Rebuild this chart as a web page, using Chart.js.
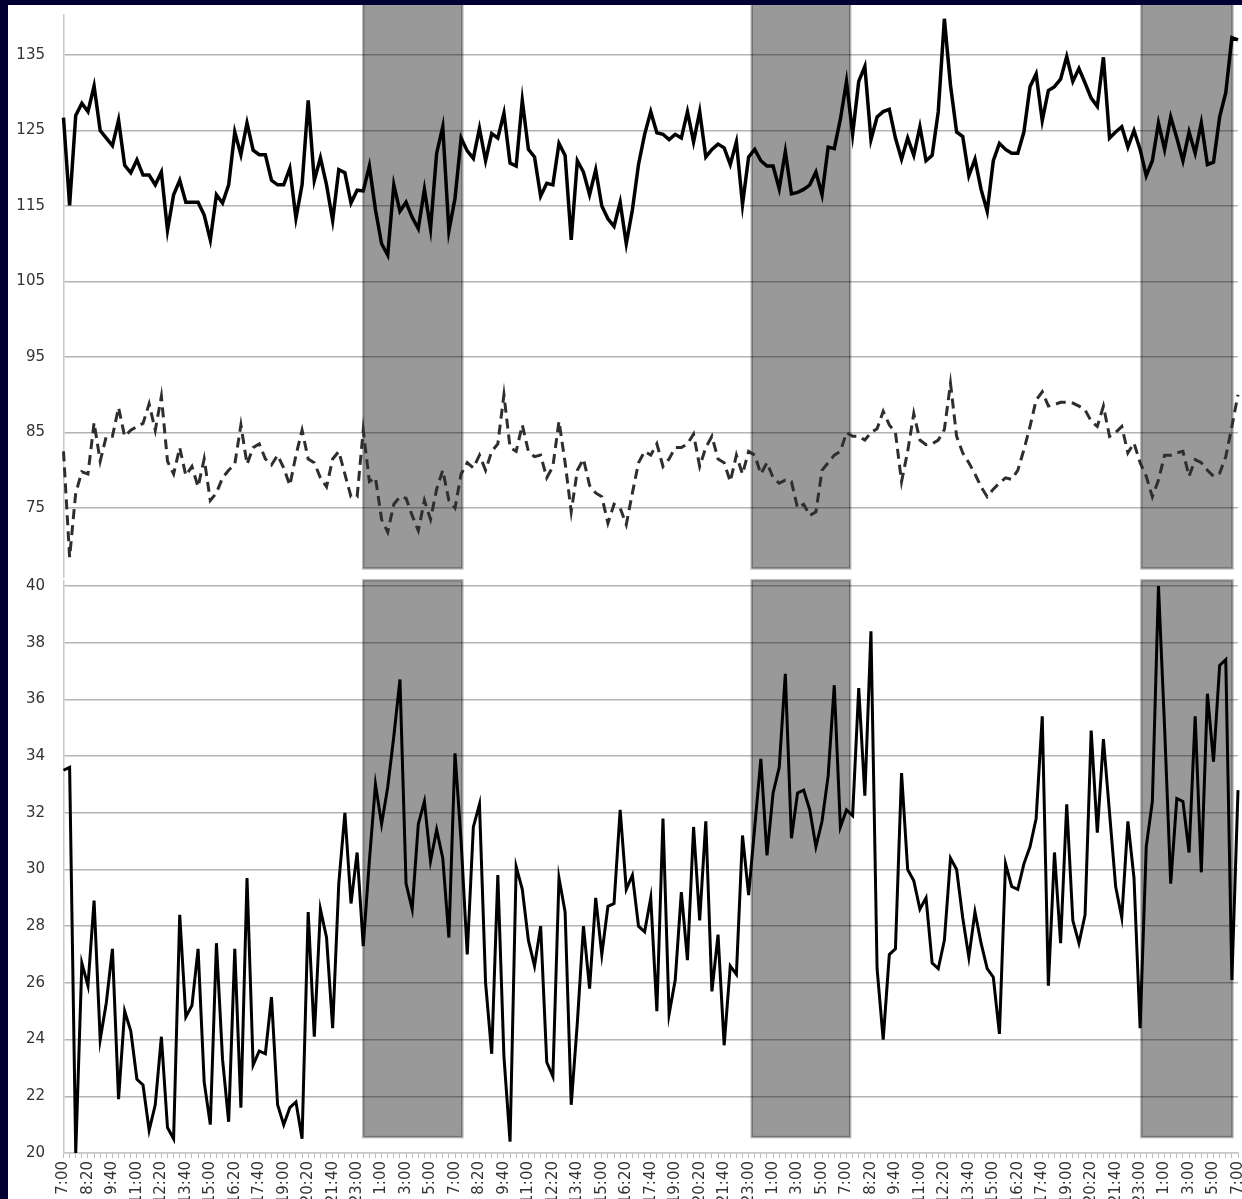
<!DOCTYPE html>
<html>
<head>
<meta charset="utf-8">
<script src="https://cdn.jsdelivr.net/npm/chart.js@4.4.1/dist/chart.umd.min.js"></script>
<style>
  html, body { margin: 0; padding: 0; background: #000033; width: 1242px; height: 1199px; overflow: hidden; }
  #wrap { position: absolute; left: 8px; top: 5px; width: 1234px; height: 1194px; background: #fff; overflow: hidden; }
  #top { position: absolute; left: 0; top: 0; }
  #bottom { position: absolute; left: 0; top: 573px; }
</style>
</head>
<body>
<div id="wrap">
  <canvas id="top" width="1234" height="573"></canvas>
  <canvas id="bottom" width="1234" height="621"></canvas>
</div>
<script>
// tick labels shown under the lower panel (every 4th reading)
const xTickLabels = [
  '7:00', '8:20', '9:40', '11:00', '12:20', '13:40', '15:00', '16:20', '17:40', '19:00', '20:20', '21:40', '23:00', '1:00', '3:00', '5:00',
  '7:00', '8:20', '9:40', '11:00', '12:20', '13:40', '15:00', '16:20', '17:40', '19:00', '20:20', '21:40', '23:00', '1:00', '3:00', '5:00',
  '7:00', '8:20', '9:40', '11:00', '12:20', '13:40', '15:00', '16:20', '17:40', '19:00', '20:20', '21:40', '23:00', '1:00', '3:00', '5:00',
  '7:00'
];

// upper panel, solid line
const topSolid = [
  126.7, 115.1, 127, 128.6, 127.5, 130.9, 125, 124, 123, 126.4, 120.4, 119.4, 121.1, 119.1, 119.1, 117.8, 119.5, 111.8, 116.5, 118.4,
  115.5, 115.5, 115.5, 113.8, 110.5, 116.5, 115.4, 117.8, 124.8, 121.8, 126, 122.4, 121.8, 121.8, 118.4, 117.8, 117.8, 120, 113.4, 117.8,
  129, 118.4, 121.4, 117.8, 113.1, 119.8, 119.4, 115.4, 117.1, 117,
  120.3, 114.5, 110, 108.5, 117.8, 114.3, 115.5, 113.5, 112, 117.2, 112, 122, 125.5, 111.7, 116, 124,
  122.3, 121.3, 125.3, 121, 124.6, 124, 127.3, 120.7, 120.3, 129, 122.5, 121.5, 116.3, 118, 117.8, 123.3, 121.7, 110.5, 121, 119.5,
  116.5, 119.8, 115, 113.3, 112.3, 115.5, 110, 114.5, 120.5, 124.5, 127.5, 124.7, 124.5, 123.8,
  124.5, 124, 127.5, 123.5, 127.5, 121.5, 122.5, 123.2, 122.7, 120.5, 123.5, 115.2, 121.5, 122.5, 121, 120.3, 120.3, 117.3, 122.2, 116.6,
  116.8, 117.2, 117.8, 119.5, 116.5, 122.8, 122.6, 126.5,
  131.5, 124.5, 131.5, 133.5, 123.8, 126.8, 127.5, 127.8, 124, 121.2, 124, 121.7, 125.5, 121, 121.7, 127.5, 139.8, 131, 124.8, 124.2,
  119, 121.2, 117.2, 114.3, 121, 123.3, 122.5, 122, 122, 124.8, 130.8, 132.5,
  126.3, 130.3, 130.8, 131.8, 134.8, 131.5, 133.2, 131.3, 129.3, 128.2, 134.7, 124, 124.8, 125.5, 122.8, 125, 122.5, 119, 121, 126,
  122.5, 126.8, 124, 121, 124.8, 122, 126, 120.5, 120.8, 126.8, 130, 137.3, 137
];

// upper panel, dashed line
const topDashed = [
  82.5, 68.5, 77, 79.8, 79.5, 86.3, 81.2, 84.5, 84.5, 88.3, 84.5, 85.3, 85.8, 86.2, 88.8, 85.3, 89.8, 81.2, 79.5, 83,
  79.3, 80.5, 77.8, 81.5, 76, 77, 79, 80, 80.8, 86, 80.8, 83, 83.5, 81.5, 80.7, 82, 80.3, 78, 82, 85.3,
  81.5, 81, 79, 77.8, 81.5, 82.5, 79.5, 76.5, 76.5, 85.3,
  78.5, 79, 73.5, 71.8, 75.5, 76.5, 76.3, 74, 72, 76, 73.5, 77.5, 80, 76, 75, 79.5,
  81, 80.3, 82, 80, 82.5, 83.5, 90, 83, 82.5, 86, 82.5, 81.8, 82, 79, 80.5, 86.5, 81, 74.5, 80, 81.5,
  78, 77, 76.5, 73, 75.5, 75, 72.8, 77, 81, 82.5, 82, 83.5, 80.5, 81.5,
  83, 83, 83.5, 84.8, 80.5, 83, 84.5, 81.5, 81, 78.5, 82, 79.5, 82.5, 82, 79.5, 81, 79, 78.3, 78.7, 78.5,
  75, 75.5, 74, 74.5, 80, 81, 82, 82.5,
  85, 84.5, 84.5, 84, 85, 85.5, 87.8, 86, 85, 78.5, 82.5, 87.5, 84, 83.4, 83.5, 84, 85.4, 91.5, 84.5, 82.3,
  81, 79.5, 77.8, 76.5, 77.5, 78.3, 79, 78.8, 80, 82.7, 85.8, 89.3,
  90.4, 88.5, 88.7, 89, 89, 88.9, 88.5, 88, 86.5, 85.8, 88.5, 84.5, 85, 85.8, 82.3, 83.6, 81, 79.2, 76.5, 78.7,
  82, 82, 82.3, 82.5, 79.2, 81.4, 81, 80, 79.2, 79.6, 81.8, 85.8, 90
];

// lower panel
const bottomLine = [
  33.5, 33.6, 20.0, 26.7, 25.9, 28.9, 24.0, 25.3, 27.2, 21.9, 25.0, 24.3, 22.6, 22.4, 20.8, 21.7, 24.1, 20.9, 20.5, 28.4,
  24.8, 25.2, 27.2, 22.5, 21.0, 27.4, 23.3, 21.1, 27.2, 21.6, 29.7, 23.1, 23.6, 23.5, 25.5, 21.7, 21.0, 21.6, 21.8, 20.5,
  28.5, 24.1, 28.6, 27.6, 24.4, 29.5, 32.0, 28.8, 30.6, 27.3, 30.3, 33.0, 31.6, 32.9, 34.7, 36.7, 29.5, 28.6, 31.6, 32.4,
  30.3, 31.4, 30.4, 27.6, 34.1,
  31.0, 27.0, 31.5, 32.3, 26.0, 23.5, 29.8, 23.4, 20.4, 30.1, 29.3, 27.5, 26.6, 28.0, 23.2, 22.7, 29.7, 28.5, 21.7, 24.6,
  28.0, 25.8, 29.0, 27.0, 28.7, 28.8, 32.1, 29.3, 29.8, 28.0, 27.8, 29.0, 25.0, 31.8, 24.9, 26.1, 29.2, 26.8, 31.5, 28.2,
  31.7, 25.7, 27.7, 23.8, 26.6, 26.3, 31.2, 29.1, 31.5, 33.9, 30.5, 32.7, 33.6, 36.9, 31.1, 32.7, 32.8, 32.1, 30.8, 31.7,
  33.3, 36.5, 31.5,
  32.1, 31.9, 36.4, 32.6, 38.4, 26.5, 24.0, 27.0, 27.2, 33.4, 30.0, 29.6, 28.6, 29.0, 26.7, 26.5, 27.5, 30.4, 30.0, 28.3,
  26.9, 28.5, 27.4, 26.5, 26.2, 24.2, 30.2, 29.4, 29.3, 30.2, 30.8, 31.8, 35.4, 25.9, 30.6, 27.4, 32.3, 28.2, 27.4, 28.4,
  34.9, 31.3, 34.6, 32.0, 29.4, 28.3, 31.7, 29.7, 24.4, 30.8, 32.4, 40.0, 35.0, 29.5, 32.5, 32.4, 30.6, 35.4, 29.9, 36.2,
  33.8, 37.2, 37.4, 26.1, 32.8
];

const topTicks = [75, 85, 95, 105, 115, 125, 135];
const bottomTicks = [20, 22, 24, 26, 28, 30, 32, 34, 36, 38, 40];

// night periods (23:00 - 7:00), in reading positions
const nightBands = [[49, 65.2], [112.5, 128.6], [176.2, 191.1]];

// one category per reading, label on every 4th
const categories = topSolid.map((v, i) => (i % 4 === 0 ? xTickLabels[i / 4] : ''));

// grey shading for the nights
const nightPlugin = {
  id: 'night',
  beforeDatasetsDraw(chart, args, opts) {
    const { ctx, scales: { x, y } } = chart;
    ctx.save();
    nightBands.forEach(([a, b]) => {
      const l = x.getPixelForValue(a);
      const r = x.getPixelForValue(b);
      const t = opts.top == null ? -10 : y.getPixelForValue(opts.top);
      const btm = y.getPixelForValue(opts.bottom);
      ctx.fillStyle = 'rgba(0,0,0,0.4)';
      ctx.fillRect(l, t, r - l, btm - t);
      ctx.strokeStyle = 'rgba(0,0,0,0.28)';
      ctx.lineWidth = 2.5;
      ctx.strokeRect(l, t, r - l, btm - t);
    });
    ctx.restore();
  }
};

const tickFont = { family: 'DejaVu Sans', size: 15 };
const gridStyle = { color: '#b4b4b4', lineWidth: 1.5, drawTicks: false };
const borderStyle = { color: '#c8c8c8', width: 1.5 };

// fixed y axis width, no extra label padding above/below
const fitY = s => { s.width = 55.5; s.paddingTop = 0; s.paddingBottom = 0; };

new Chart(document.getElementById('top'), {
  type: 'line',
  data: {
    labels: categories,
    datasets: [
      { data: topSolid, borderColor: '#000', borderWidth: 3.5, pointRadius: 0, tension: 0, clip: false },
      { data: topDashed, borderColor: '#2e2e2e', borderWidth: 3, borderDash: [10, 6], pointRadius: 0, tension: 0, clip: false }
    ]
  },
  options: {
    responsive: false,
    animation: false,
    layout: { padding: { top: 10, right: 4, bottom: 0, left: 0 }, autoPadding: false },
    plugins: {
      legend: { display: false },
      tooltip: { enabled: false },
      night: { top: null, bottom: 67 }
    },
    scales: {
      x: { display: false },
      y: {
        min: 65.73,
        max: 140.3,
        afterFit: fitY,
        afterBuildTicks: s => { s.ticks = topTicks.map(v => ({ value: v })); },
        grid: gridStyle,
        border: borderStyle,
        ticks: { padding: 18.5, color: '#333', font: tickFont }
      }
    }
  },
  plugins: [nightPlugin]
});

new Chart(document.getElementById('bottom'), {
  type: 'line',
  data: {
    labels: categories,
    datasets: [
      { data: bottomLine, borderColor: '#000', borderWidth: 3, pointRadius: 0, tension: 0, clip: false }
    ]
  },
  options: {
    responsive: false,
    animation: false,
    layout: { padding: { top: 2.3, right: 4, bottom: 0, left: 0 }, autoPadding: false },
    plugins: {
      legend: { display: false },
      tooltip: { enabled: false },
      night: { top: 40.2, bottom: 20.56 }
    },
    scales: {
      x: {
        afterFit: s => { s.height = 46; s.paddingLeft = 0; s.paddingRight = 0; },
        grid: { drawOnChartArea: false, drawTicks: true, tickLength: 5, color: '#bbb', lineWidth: 1 },
        border: borderStyle,
        ticks: {
          autoSkip: false, maxRotation: 90, minRotation: 90, padding: 3, color: '#333',
          font: { family: 'DejaVu Sans', size: 15 }
        }
      },
      y: {
        min: 20,
        max: 40.2,
        afterFit: fitY,
        afterBuildTicks: s => { s.ticks = bottomTicks.map(v => ({ value: v })); },
        grid: gridStyle,
        border: borderStyle,
        ticks: { padding: 18.5, color: '#333', font: tickFont }
      }
    }
  },
  plugins: [nightPlugin]
});
</script>
</body>
</html>
